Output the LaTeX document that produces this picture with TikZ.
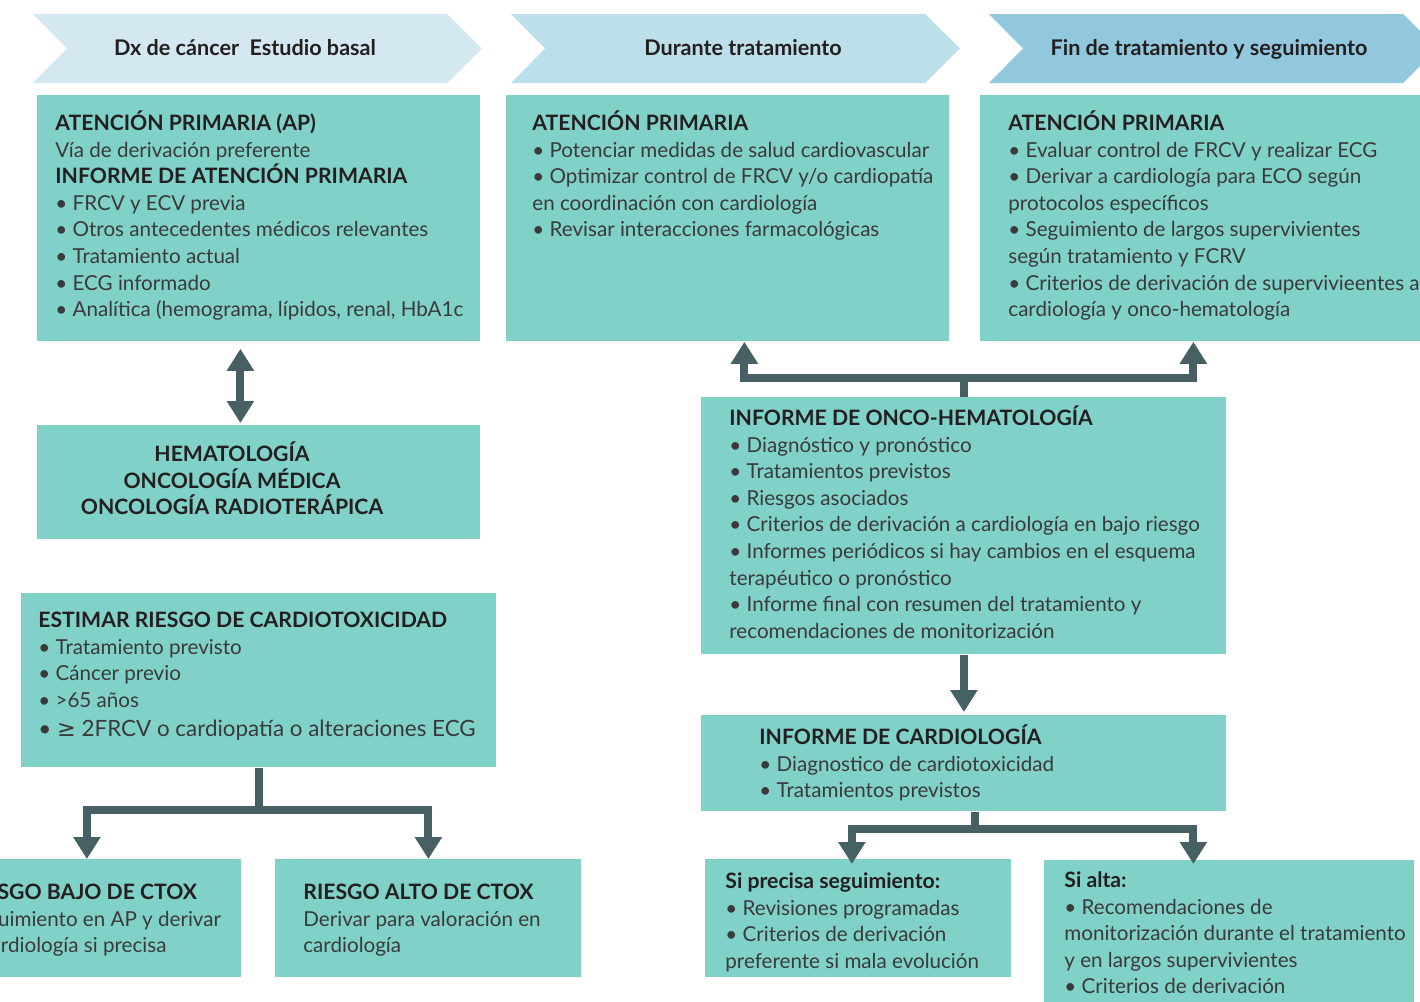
\documentclass[tikz,border=0pt]{standalone}
\usepackage{fontspec}
\setmainfont{Lato}
\newfontfamily\symfont{DejaVu Sans}
\usetikzlibrary{arrows.meta}
\definecolor{boxfill}{HTML}{80D1C8}
\definecolor{arrowc}{HTML}{466064}
\definecolor{headA}{HTML}{D3E8F0}
\definecolor{headB}{HTML}{BDDFEA}
\definecolor{headC}{HTML}{92C8DD}
\definecolor{ink}{HTML}{231F20}
\definecolor{inkl}{HTML}{3A3A3A}
\newcommand\topstrut{\rule{0pt}{11pt}}
\newcommand\hd[1]{{\fontsize{10.6}{13.3}\selectfont\bfseries\color{ink}#1}}

\begin{document}
\begin{tikzpicture}[x=0.5pt,y=-0.5pt]
			\tikzstyle{box}=[rectangle,fill=boxfill,inner sep=0pt,anchor=north west]
			\tikzstyle{txt}=[anchor=north west,align=left,inner sep=0pt,font=\fontsize{10.3}{13.3}\selectfont,text=inkl]
			\tikzstyle{head}=[anchor=base,inner sep=0pt,font=\fontsize{10.8}{12}\selectfont\bfseries,text=ink]
			\tikzstyle{arr}=[arrowc,line width=4pt,-{Triangle[length=11pt,width=13pt]}]
			\useasboundingbox (0,0) rectangle (1420,1002);
			\clip (0,0) rectangle (1420,1002);
			% fases
			\fill[headA] (33,14) -- (447,14) -- (482,48.5) -- (447,83) -- (33,83) -- (67,48.5) -- cycle;
			\fill[headB] (511,14) -- (925,14) -- (960,48.5) -- (925,83) -- (511,83) -- (545,48.5) -- cycle;
			\fill[headC] (989,14) -- (1403,14) -- (1438,48.5) -- (1403,83) -- (989,83) -- (1023,48.5) -- cycle;
			\node[head] (H_1) at (245,55) {Dx de cáncer\ \ Estudio basal};
			\node[head] (H_2) at (743,55) {Durante tratamiento};
			\node[head] (H_3) at (1209,55) {Fin de tratamiento y seguimiento};
			% cajas
			\node[box,minimum width=221.5pt,minimum height=123pt] (ap) at (37,95) {};
			\node[box,minimum width=221.5pt,minimum height=57pt] (hem) at (37,425) {};
			\node[box,minimum width=237.5pt,minimum height=87pt] (riesgo) at (21,593) {};
			\node[box,minimum width=154.5pt,minimum height=59pt] (bajo) at (-68,859) {};
			\node[box,minimum width=153pt,minimum height=59pt] (alto) at (275,859) {};
			\node[box,minimum width=221.5pt,minimum height=123pt] (durante) at (506,95) {};
			\node[box,minimum width=225pt,minimum height=123pt] (fin) at (980,95) {};
			\node[box,minimum width=262.5pt,minimum height=128.5pt] (onco) at (701,397) {};
			\node[box,minimum width=262.5pt,minimum height=48pt] (cardio) at (701,715) {};
			\node[box,minimum width=153pt,minimum height=59pt] (seg) at (705,859) {};
			\node[box,minimum width=185pt,minimum height=80pt] (alta) at (1044,860) {};
			% textos
			\node[txt] (ap_t) at (55,108) {\topstrut\hd{ATENCIÓN PRIMARIA (AP)}\\
				Vía de derivación preferente\\
				\hd{INFORME DE ATENCIÓN PRIMARIA}\\
				• FRCV y ECV previa\\
				• Otros antecedentes médicos relevantes\\
				• Tratamiento actual\\
				• ECG informado\\
				• Analítica (hemograma, lípidos, renal, HbA1c};
			\node[txt,anchor=north,align=center] (hem_t) at (232,439) {\topstrut\hd{HEMATOLOGÍA}\\\hd{ONCOLOGÍA MÉDICA}\\\hd{ONCOLOGÍA RADIOTERÁPICA}};
			\node[txt] (riesgo_t) at (38,605) {\topstrut\hd{ESTIMAR RIESGO DE CARDIOTOXICIDAD}\\
				• Tratamiento previsto\\
				• Cáncer previo\\
				• >65 años\\[1.5pt]
				{\fontsize{11.2}{13.3}\selectfont • {\symfont ≥} 2FRCV o cardiopatía o alteraciones ECG}};
			\node[txt] (bajo_t) at (-35,877) {\topstrut\hd{RIESGO BAJO DE CTOX}\\
				Seguimiento en AP y derivar\\
				a cardiología si precisa};
			\node[txt] (alto_t) at (303,877) {\topstrut\hd{RIESGO ALTO DE CTOX}\\
				Derivar para valoración en\\
				cardiología};
			\node[txt] (durante_t) at (532,108) {\topstrut\hd{ATENCIÓN PRIMARIA}\\
				• Potenciar medidas de salud cardiovascular\\
				• Optimizar control de FRCV y/o cardiopatía\\
				en coordinación con cardiología\\
				• Revisar interacciones farmacológicas};
			\node[txt] (fin_t) at (1008,108) {\topstrut\hd{ATENCIÓN PRIMARIA}\\
				• Evaluar control de FRCV y realizar ECG\\
				• Derivar a cardiología para ECO según\\
				protocolos específicos\\
				• Seguimiento de largos supervivientes\\
				según tratamiento y FCRV\\
				• Criterios de derivación de supervivieentes a\\
				cardiología y onco-hematología};
			\node[txt] (onco_t) at (729,403) {\topstrut\hd{INFORME DE ONCO-HEMATOLOGÍA}\\
				• Diagnóstico y pronóstico\\
				• Tratamientos previstos\\
				• Riesgos asociados\\
				• Criterios de derivación a cardiología en bajo riesgo\\
				• Informes periódicos si hay cambios en el esquema\\
				terapéutico o pronóstico\\
				• Informe final con resumen del tratamiento y\\
				recomendaciones de monitorización};
			\node[txt] (cardio_t) at (759,722) {\topstrut\hd{INFORME DE CARDIOLOGÍA}\\
				• Diagnostico de cardiotoxicidad\\
				• Tratamientos previstos};
			\node[txt] (seg_t) at (725,866) {\topstrut\hd{Si precisa seguimiento:}\\
				• Revisiones programadas\\
				• Criterios de derivación\\
				preferente si mala evolución};
			\node[txt] (alta_t) at (1064,865) {\topstrut\hd{Si alta:}\\
				• Recomendaciones de\\
				monitorización durante el tratamiento\\
				y en largos supervivientes\\
				• Criterios de derivación};
			% flechas
			\draw[arr,{Triangle[length=11pt,width=13pt]}-{Triangle[length=11pt,width=13pt]},shorten <=3.5pt,shorten >=1pt] ([xshift=-9.25pt]ap.south) -- ([xshift=-9.25pt]hem.north);
			\draw[arr] (riesgo.south) -- ++(0,42) -| (bajo.north);
			\draw[arr] (riesgo.south) -- ++(0,42) -| (alto.north);
			\draw[arr] (onco.north) -- ++(0,-19) -| ([xshift=8.25pt]durante.south);
			\draw[arr] (onco.north) -- ++(0,-19) -| ([xshift=-6pt]fin.south);
			\draw[arr,shorten >=1.5pt] (onco.south) -- (cardio.north);
			\draw[arr,shorten >=-2.5pt] ([xshift=5.75pt]cardio.south) -- ++(0,17) -| ([xshift=-3.25pt]seg.north);
			\draw[arr,shorten >=-2pt] ([xshift=5.75pt]cardio.south) -- ++(0,17) -| ([xshift=-18pt]alta.north);
			\end{tikzpicture}
\end{document}
